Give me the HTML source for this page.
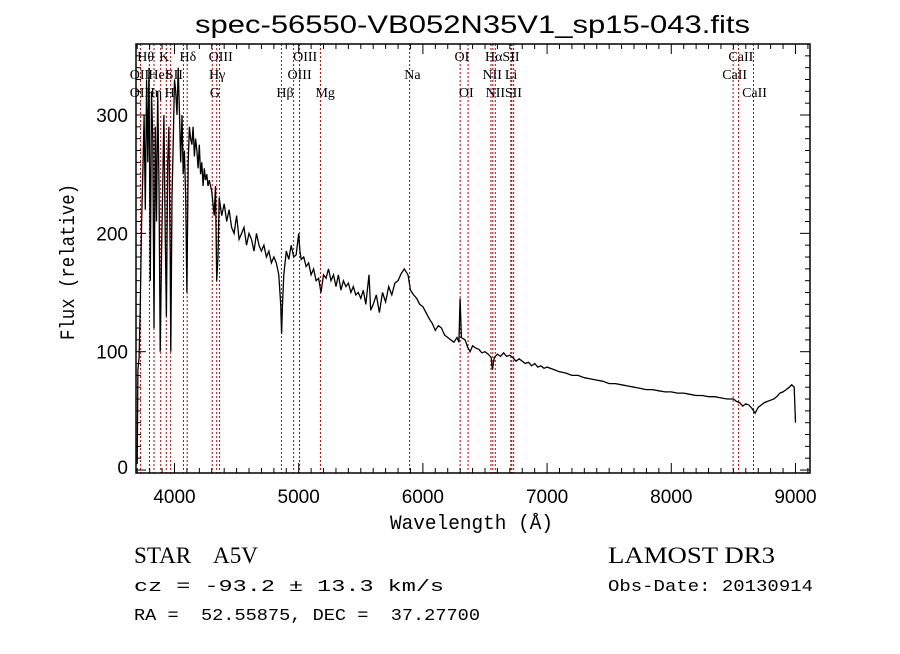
<!DOCTYPE html>
<html><head><meta charset="utf-8">
<style>
body{margin:0;background:#fff;width:900px;height:649px;overflow:hidden}
svg text{fill:#000}
</style></head><body>
<svg id="chart" width="900" height="649" viewBox="0 0 900 649" xmlns="http://www.w3.org/2000/svg">
<rect width="900" height="649" fill="#fff"/>
<text x="195" y="33" textLength="555" lengthAdjust="spacingAndGlyphs" font-family="Liberation Sans, sans-serif" font-size="25">spec-56550-VB052N35V1_sp15-043.fits</text>
<g id="lines"></g>
<g id="labels"></g>
<path id="spec" fill="none" stroke="#000" stroke-width="1.3"/>
<g id="axes"></g>
<text x="390" y="529" textLength="163" lengthAdjust="spacingAndGlyphs" font-family="Liberation Mono, monospace" font-size="20">Wavelength (Å)</text>
<text transform="translate(74,340) rotate(-90)" textLength="156" lengthAdjust="spacingAndGlyphs" font-family="Liberation Mono, monospace" font-size="20">Flux (relative)</text>
<text x="134" y="563" textLength="124" lengthAdjust="spacingAndGlyphs" font-family="Liberation Serif, serif" font-size="23" xml:space="preserve">STAR    A5V</text>
<text x="608" y="563" textLength="167" lengthAdjust="spacingAndGlyphs" font-family="Liberation Serif, serif" font-size="23">LAMOST DR3</text>
<text x="134" y="591" textLength="310" lengthAdjust="spacingAndGlyphs" font-family="Liberation Mono, monospace" font-size="17">cz = -93.2 ± 13.3 km/s</text>
<text x="608" y="591" textLength="205" lengthAdjust="spacingAndGlyphs" font-family="Liberation Mono, monospace" font-size="17">Obs-Date: 20130914</text>
<text x="134" y="620" textLength="346" lengthAdjust="spacingAndGlyphs" font-family="Liberation Mono, monospace" font-size="17" xml:space="preserve">RA =  52.55875, DEC =  37.27700</text>
</svg>
<script>
const wavelengths=[3700,3705,3715,3725,3735,3745,3755,3765,3775,3785,3795,3805,3815,3825,3835,3845,3855,3865,3875,3885,3895,3905,3915,3925,3935,3945,3955,3965,3970,3980,3990,4000,4010,4020,4030,4040,4050,4060,4070,4080,4090,4100,4110,4120,4130,4140,4150,4160,4170,4180,4190,4200,4210,4220,4230,4240,4250,4260,4270,4280,4300,4320,4330,4340,4350,4360,4380,4400,4420,4440,4460,4480,4500,4520,4540,4560,4580,4600,4620,4640,4660,4680,4700,4720,4740,4760,4780,4800,4820,4840,4855,4862,4870,4880,4900,4920,4940,4960,4980,5000,5010,5020,5040,5060,5080,5100,5120,5140,5160,5180,5200,5220,5240,5260,5280,5300,5320,5340,5360,5380,5400,5420,5440,5460,5480,5500,5520,5540,5566,5580,5600,5625,5650,5675,5700,5725,5750,5775,5800,5825,5850,5880,5900,5925,5950,5975,6000,6025,6050,6075,6100,6125,6150,6175,6200,6225,6250,6275,6290,6300,6310,6340,6360,6380,6400,6425,6450,6475,6500,6525,6550,6560,6575,6600,6625,6650,6675,6700,6725,6750,6775,6800,6825,6850,6875,6900,6925,6950,6975,7000,7050,7100,7150,7200,7250,7300,7350,7400,7450,7500,7550,7600,7650,7700,7750,7800,7850,7900,7950,8000,8050,8100,8150,8200,8250,8300,8350,8400,8450,8500,8525,8550,8575,8600,8625,8650,8675,8700,8725,8750,8775,8800,8825,8850,8875,8900,8925,8950,8970,8980,8990,9000];
const flux=[5,85,95,140,210,250,300,220,330,260,340,160,320,280,120,290,210,320,240,100,180,240,300,200,130,260,290,180,100,230,280,330,320,300,340,300,260,300,250,270,230,150,260,290,280,275,290,265,280,270,255,275,250,260,240,255,245,250,240,245,235,215,240,160,180,230,215,225,210,220,205,200,215,195,200,205,190,200,195,185,200,190,185,190,180,185,175,180,175,165,140,115,140,165,185,178,190,180,182,200,185,178,180,172,175,165,170,160,162,150,165,162,170,160,165,155,165,152,160,155,158,150,155,148,150,145,152,140,165,135,140,148,133,150,142,155,148,158,160,166,170,165,152,148,145,140,138,133,128,124,118,122,120,114,112,110,108,112,108,145,112,110,104,100,105,103,102,99,100,98,95,85,95,98,96,99,96,97,95,92,94,92,90,91,88,90,87,88,86,87,85,83,82,80,80,78,77,76,75,73,73,72,71,70,69,68,68,67,66,66,65,65,64,63,63,62,62,61,60,60,58,57,54,56,55,52,48,53,55,57,58,59,60,62,65,66,68,70,72,71,70,40,10];
const lineWaves=[3727,3798,3835,3889,3934,3969,4072,4102,4304,4340,4363,4861,4959,5007,5175,5893,6300,6364,6548,6563,6583,6708,6716,6731,8498,8542,8662];
const labelTexts=["Hθ","K","Hδ","OIII","OIII","OI","HαSII","CaII","OII","HeI","SII","Hγ","OIII","Na","NII","Li","CaII","OII","Hη","H","G","Hβ","Mg","OI","NII","SII","CaII"];
const labelWaves=[3700,3876,4040,4275,4955,6255,6500,8460,3640,3790,3930,4278,4910,5850,6480,6660,8410,3640,3760,3920,4285,4820,5135,6290,6505,6660,8570];
const labelRows=[0,0,0,0,0,0,0,0,1,1,1,1,1,1,1,1,1,2,2,2,2,2,2,2,2,2,2];
const xTicks=[4000,5000,6000,7000,8000,9000];
const yTicks=[0,100,200,300];

const X0=136,X1=810,Y0=44,Y1=473,WMIN=3690,WMAX=9117,FMIN=-2.5,FMAX=360;
const sx=w=>X0+(w-WMIN)/(WMAX-WMIN)*(X1-X0);
const sy=f=>Y1-(f-FMIN)/(FMAX-FMIN)*(Y1-Y0);
const NS="http://www.w3.org/2000/svg";
function mk(tag,attrs,parent){const e=document.createElementNS(NS,tag);for(const k in attrs)e.setAttribute(k,attrs[k]);parent.appendChild(e);return e;}

let d="";
wavelengths.forEach((w,i)=>{d+=(i?"L":"M")+sx(w).toFixed(1)+" "+sy(flux[i]).toFixed(1);});
document.getElementById('spec').setAttribute('d',d);

const lg=document.getElementById('lines');
lineWaves.forEach(w=>{
 const l=mk('line',{x1:sx(w),x2:sx(w),y1:Y0,y2:Y1,stroke:'#b00000','stroke-width':1,'stroke-dasharray':'2,2'},lg);
 
 
});
const lb=document.getElementById('labels');
const rowY=[61,79,97];
labelTexts.forEach((t,i)=>{
 const e=mk('text',{x:sx(labelWaves[i]),y:rowY[labelRows[i]],'font-family':'Liberation Serif, serif','font-size':14},lb);
 e.textContent=t;
 
 
});

const ax=document.getElementById('axes');
mk('rect',{x:X0,y:Y0,width:X1-X0,height:Y1-Y0,fill:'none',stroke:'#000','stroke-width':1.5},ax);
for(let w=3700;w<=9100;w+=100){
 const x=sx(w),maj=w%1000===0,len=maj?10:5;
 mk('line',{x1:x,x2:x,y1:Y1,y2:Y1-len,stroke:'#000'},ax);
 mk('line',{x1:x,x2:x,y1:Y0,y2:Y0+len,stroke:'#000'},ax);
}
for(let f=0;f<=360;f+=10){
 const y=sy(f),maj=f%100===0,len=maj?10:5;
 mk('line',{x1:X0,x2:X0+len,y1:y,y2:y,stroke:'#000'},ax);
 mk('line',{x1:X1,x2:X1-len,y1:y,y2:y,stroke:'#000'},ax);
}
xTicks.forEach(w=>{
 const t=mk('text',{x:sx(w),y:503,'text-anchor':'middle','font-family':'Liberation Sans, sans-serif','font-size':19},ax);
 t.textContent=w;
 
 
});
yTicks.forEach(f=>{
 const t=mk('text',{x:128,y:Math.min(sy(f)+7,474),'text-anchor':'end','font-family':'Liberation Sans, sans-serif','font-size':19},ax);
 t.textContent=f;
 
 
});
</script>
</body></html>
